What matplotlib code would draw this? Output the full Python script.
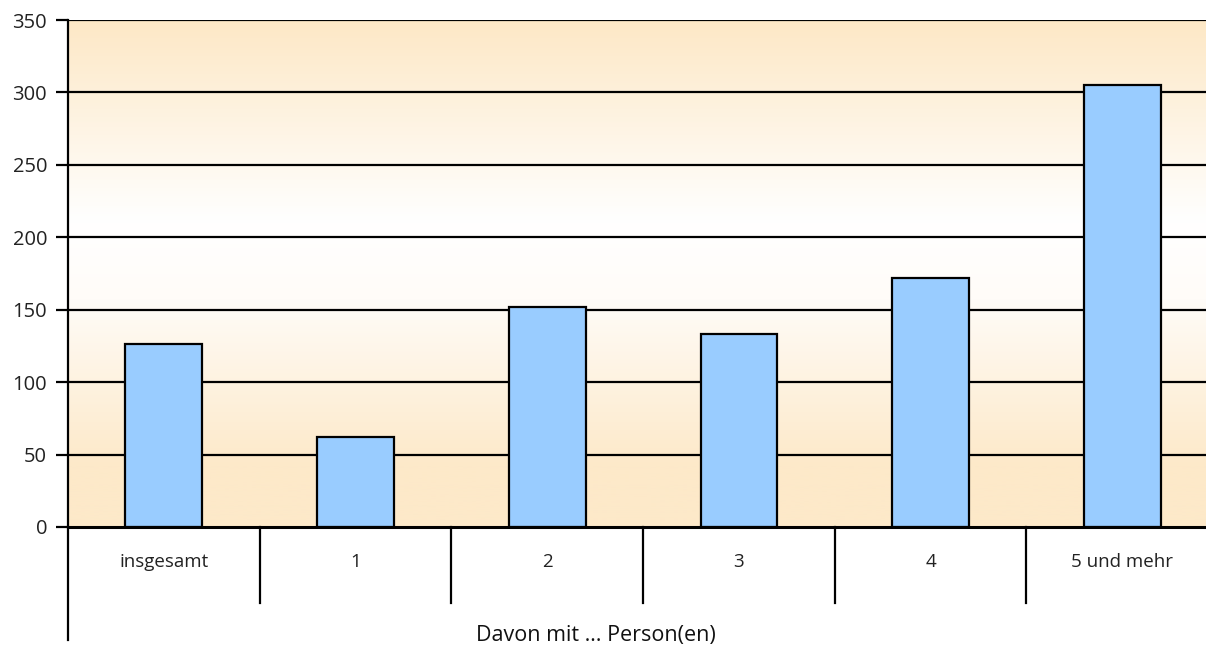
import numpy as np
import matplotlib
matplotlib.use("Agg")
import matplotlib.pyplot as plt
from matplotlib.colors import LinearSegmentedColormap
from matplotlib.transforms import blended_transform_factory

plt.rcParams['font.family'] = ['Open Sans', 'DejaVu Sans']

categories = ["insgesamt", "1", "2", "3", "4", "5 und mehr"]
values = [126, 62, 152, 133, 172, 305]
y_ticks = [0, 50, 100, 150, 200, 250, 300, 350]
x_title = "Davon mit \u2026 Person(en)"

W, H = 1206, 645
fig = plt.figure(figsize=(W / 100, H / 100), dpi=100)
ax = fig.add_axes([68 / W, (H - 527) / H, 1150 / W, 507 / H])

n = len(categories)
ax.set_xlim(-0.5, n - 0.5)
ax.set_ylim(0, 350)

# warm vertical background gradient: orange at top and bottom, white in the middle
orange_lo = "#fde9c9"
orange_hi = "#fde8c6"
cmap = LinearSegmentedColormap.from_list(
    "bg", [(0.0, orange_lo), (0.12, orange_lo), (0.45, "#fffcf8"),
           (0.6, "#ffffff"), (1.0, orange_hi)])
grad = np.linspace(0, 1, 512).reshape(-1, 1)
ax.imshow(grad, cmap=cmap, origin="lower", aspect="auto",
          extent=(-0.5, n - 0.5, 0, 350), zorder=0)

# horizontal grid lines
for t in y_ticks[1:]:
    ax.axhline(t, color="black", lw=1.6, zorder=1)

x = np.arange(n)
ax.bar(x, values, width=0.40, color="#99ccff", edgecolor="black",
       linewidth=1.6, zorder=2)

ax.set_yticks(y_ticks)
ax.set_yticklabels([str(t) for t in y_ticks], fontsize=14.5, color="#222222")
ax.tick_params(axis="y", length=9, width=1.6, pad=6)

ax.set_xticks(x)
ax.set_xticklabels(categories, fontsize=13.5, color="#222222")
ax.tick_params(axis="x", length=0, pad=19)

for side in ("top", "right"):
    ax.spines[side].set_visible(False)
ax.spines["left"].set_linewidth(1.6)
ax.spines["bottom"].set_linewidth(2.2)

# category dividers hanging below the axis
trans = blended_transform_factory(ax.transData, ax.transAxes)
for i in range(n + 1):
    xb = i - 0.5
    lower = -113 / 507 if i == 0 else -76 / 507
    ax.plot([xb, xb], [0, lower], color="black", lw=1.6,
            transform=trans, clip_on=False, zorder=3)

fig.text(596 / W, (H - 635) / H, x_title, ha="center", va="center",
         fontsize=15.5, color="#111111")

fig.savefig("out.png", dpi=100)
